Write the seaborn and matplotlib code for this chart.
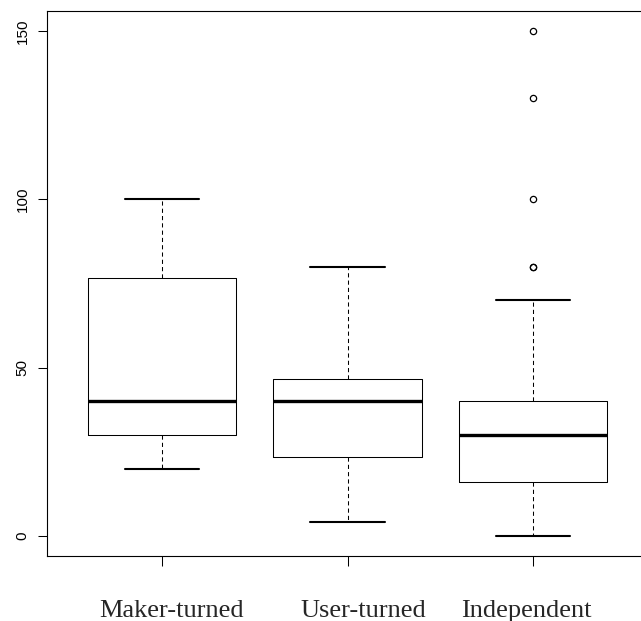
import matplotlib
matplotlib.use("Agg")
import matplotlib.pyplot as plt
import pandas as pd
import seaborn as sns

# Groups shown on the x axis
groups = ["Maker-turned", "User-turned", "Independent"]

# Sample values per group (chosen so the box statistics match the figure)
maker_turned = [20, 30, 40, 76.5, 100]
user_turned = [4, 23.5, 40, 46.5, 80]
independent = [0, 3, 5, 8, 10, 12, 16, 18, 20, 22, 25, 28, 30,
               30, 32, 35, 35, 38, 40, 70, 80, 80, 100, 130, 150]

y_ticks = [0, 50, 100, 150]

df = pd.DataFrame({
    "group": (["Maker-turned"] * len(maker_turned)
              + ["User-turned"] * len(user_turned)
              + ["Independent"] * len(independent)),
    "value": maker_turned + user_turned + independent,
})

sns.set_theme(style="ticks")
plt.rcParams["font.family"] = ["Liberation Sans", "DejaVu Sans"]

fig = plt.figure(figsize=(6.41, 6.21), dpi=100)
ax = fig.add_axes([47 / 641, 1 - 556 / 621, 601 / 641, 545 / 621])

sns.boxplot(
    data=df, x="group", y="value", order=groups, ax=ax,
    fill=False, color="black", width=0.8, linewidth=0.75,
    boxprops=dict(color="black", linewidth=0.75),
    whiskerprops=dict(color="black", linewidth=0.75, linestyle=(0, (4, 3))),
    capprops=dict(color="black", linewidth=1.5),
    medianprops=dict(color="black", linewidth=2.4),
    flierprops=dict(marker="o", markersize=4.5, markerfacecolor="none",
                    markeredgecolor="black", markeredgewidth=0.9),
)

ax.set_xlim(-0.62, 2.62)
ax.set_ylim(-6, 156)
ax.set_yticks(y_ticks)
ax.set_xlabel("")
ax.set_ylabel("")

for side in ["left", "right", "top", "bottom"]:
    ax.spines[side].set_visible(True)
    ax.spines[side].set_color("black")
    ax.spines[side].set_linewidth(0.8)

ax.tick_params(axis="y", length=6.5, width=0.75, pad=6, labelsize=11,
               colors="black")
for lbl in ax.get_yticklabels():
    lbl.set_rotation(90)
    lbl.set_va("center")
ax.tick_params(axis="x", length=7, width=0.75, labelbottom=False,
               colors="black")

# group names sit a little off their ticks in the original
label_shift = [6.5, 11.5, -5]
for i, (name, dx) in enumerate(zip(groups, label_shift)):
    ax.annotate(name, xy=(i, 0), xycoords=ax.get_xaxis_transform(),
                xytext=(dx, -44), textcoords="offset points",
                ha="center", va="baseline", fontsize=19,
                family=["Liberation Serif", "DejaVu Serif"],
                annotation_clip=False)

fig.savefig("out.png", dpi=100, facecolor="white")
